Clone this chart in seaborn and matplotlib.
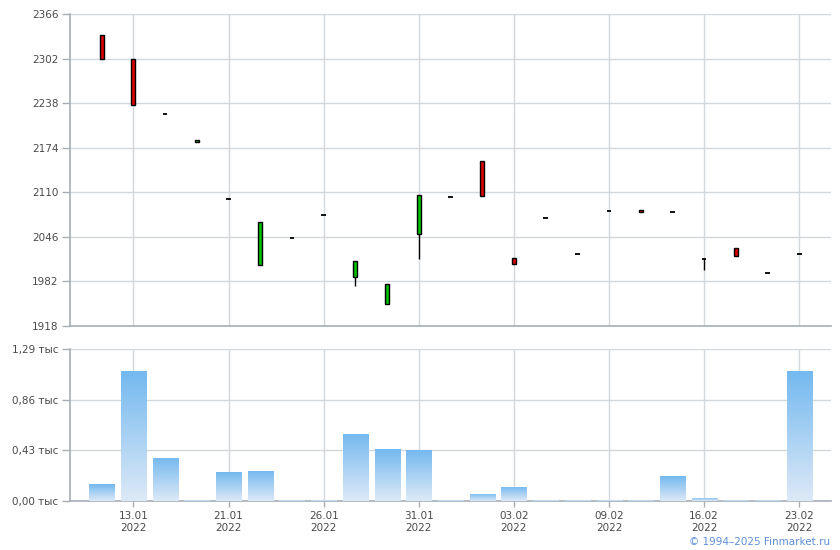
import numpy as np
import pandas as pd
import seaborn as sns
import matplotlib.pyplot as plt

# Data
open_px = [2336, 2301, 2223, 2182, 2100, 2005, 2045, 2077, 1988, 1949, 2050, 2103,
           2155, 2015, 2073, 2022, 2083, 2085, 2081, 2014, 2030, 1994, 2021]
close_px = [2301, 2236, 2223, 2185, 2100, 2068, 2045, 2077, 2011, 1978, 2106, 2103,
            2105, 2007, 2073, 2022, 2083, 2081, 2081, 2014, 2018, 1994, 2021]
high_px = [2336, 2301, 2223, 2185, 2100, 2068, 2045, 2077, 2011, 1978, 2106, 2103,
           2155, 2015, 2073, 2022, 2083, 2085, 2081, 2014, 2030, 1994, 2021]
low_px = [2301, 2235, 2223, 2182, 2100, 2005, 2045, 2077, 1976, 1949, 2014, 2103,
          2105, 2007, 2073, 2022, 2083, 2081, 2081, 1999, 2018, 1994, 2021]
volume = [0.144, 1.103, 0.365, 0.012, 0.246, 0.255, 0.012, 0.012, 0.569, 0.441, 0.433, 0.012,
          0.06, 0.12, 0.012, 0.012, 0.012, 0.012, 0.21, 0.027, 0.012, 0.012, 1.103]

tick_pos = [1, 4, 7, 10, 13, 16, 19, 22]
tick_labels = ["13.01\n2022", "21.01\n2022", "26.01\n2022", "31.01\n2022",
               "03.02\n2022", "09.02\n2022", "16.02\n2022", "23.02\n2022"]
price_ticks = [1918, 1982, 2046, 2110, 2174, 2238, 2302, 2366]
vol_ticks = [0.0, 0.43, 0.86, 1.29]
vol_labels = ["0,00 тыс", "0,43 тыс", "0,86 тыс", "1,29 тыс"]

sns.set_style("white")
plt.rcParams['font.family'] = ['DejaVu Sans']

grid_c = '#D3D8DD'
spine_c = '#A7AEB6'
text_c = '#4A4A4A'

fig = plt.figure(figsize=(8.4, 5.5), dpi=100)
ax1 = fig.add_axes([70 / 840, 1 - 326 / 550, 761 / 840, 312 / 550])
ax2 = fig.add_axes([70 / 840, 1 - 501 / 550, 761 / 840, 152 / 550])

df = pd.DataFrame({'i': np.arange(len(open_px)), 'open': open_px, 'close': close_px,
                   'high': high_px, 'low': low_px, 'vol': volume})

# Candles
ax1.vlines(df['i'], df['low'], df['high'], color='black', lw=1, zorder=3)
for _, r in df.iterrows():
    if r['open'] == r['close']:
        ax1.hlines(r['open'], r['i'] - 0.07, r['i'] + 0.07, color='black', lw=1.3, zorder=4)
    else:
        c = '#00C000' if r['close'] > r['open'] else '#DD0000'
        ax1.bar(r['i'], r['close'] - r['open'], bottom=r['open'], width=0.13,
                color=c, edgecolor='black', linewidth=1, zorder=4)

ax1.set_xlim(-1, 23)
ax1.set_ylim(1918, 2366)
ax1.set_yticks(price_ticks)
ax1.set_yticklabels([str(t) for t in price_ticks])
ax1.set_xticks(tick_pos)
ax1.tick_params(axis='x', length=0, labelbottom=False)

# Volume bars
sns.barplot(data=df, x='i', y='vol', native_scale=True, width=0.79, ax=ax2,
            color='#78BBEE', saturation=1, zorder=3)
grad = np.linspace(0, 1, 100).reshape(-1, 1)
cmap = sns.blend_palette(['#DDE9F7', '#74B9EF'], as_cmap=True)
for p in ax2.patches:
    x0, y0 = p.get_x(), p.get_y()
    w, h = p.get_width(), p.get_height()
    p.set_facecolor('none')
    p.set_edgecolor('none')
    im = ax2.imshow(grad, cmap=cmap, origin='lower', aspect='auto',
                    extent=[x0, x0 + w, y0, y0 + h], zorder=3)
    im.set_clip_path(p)

ax2.set_xlim(-1, 23)
ax2.set_ylim(0, 1.29)
ax2.set_yticks(vol_ticks)
ax2.set_yticklabels(vol_labels)
ax2.set_xticks(tick_pos)
ax2.set_xticklabels(tick_labels)
ax2.set_xlabel('')
ax2.set_ylabel('')

for ax in (ax1, ax2):
    ax.grid(True, color=grid_c, lw=1)
    ax.set_axisbelow(True)
    for s in ('top', 'right'):
        ax.spines[s].set_visible(False)
    for s in ('left', 'bottom'):
        ax.spines[s].set_color(spine_c)
        ax.spines[s].set_linewidth(1.2)
    ax.tick_params(axis='y', length=5.8, width=1, color=spine_c, pad=2.5,
                   labelsize=7.5, labelcolor=text_c, left=True)

ax2.tick_params(axis='x', length=4.5, width=1, color=spine_c, pad=2.5,
                labelsize=7.5, labelcolor=text_c, bottom=True)
for lbl in ax2.get_xticklabels():
    lbl.set_linespacing(1.25)

fig.text(830 / 840, 1 - 542 / 550, '© 1994–2025 Finmarket.ru', color='#5E8FD8',
         fontsize=7.5, ha='right', va='center')

fig.savefig('out.png', dpi=100)
